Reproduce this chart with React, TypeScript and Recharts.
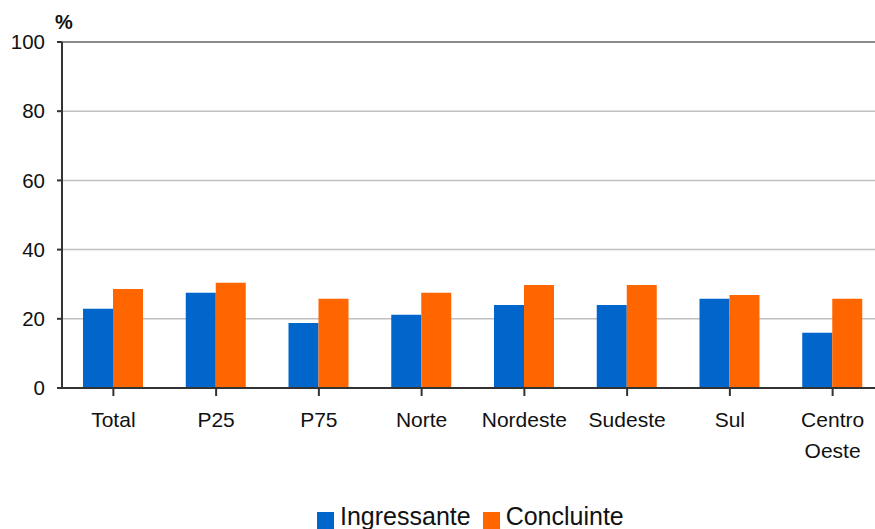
import { BarChart, Bar, XAxis, YAxis, CartesianGrid, ReferenceLine } from 'recharts';

const categories = ['Total', 'P25', 'P75', 'Norte', 'Nordeste', 'Sudeste', 'Sul', 'Centro Oeste'];
const ingressante = [22.9, 27.5, 18.8, 21.2, 24.0, 24.0, 25.8, 16.0];
const concluinte = [28.6, 30.4, 25.8, 27.5, 29.8, 29.8, 26.9, 25.8];
const yTicks = [0, 20, 40, 60, 80, 100];

const BLUE = '#0066CC';
const ORANGE = '#FF6600';
const FONT = '"Liberation Sans", Arial, Helvetica, sans-serif';

const data = categories.map((name, i) => ({
  name,
  ingressante: ingressante[i],
  concluinte: concluinte[i],
}));

// category labels wrap onto two lines when long
function CategoryTick({ x, y, payload }: any) {
  const label = String(payload.value);
  const words = label.length > 10 ? label.split(' ') : [label];
  return (
    <text x={x} y={y} textAnchor="middle" fontSize={21} fill="#111" fontFamily={FONT}>
      {words.map((w: string, i: number) => (
        <tspan key={i} x={x} dy={i === 0 ? 29 : 31}>{w}</tspan>
      ))}
    </text>
  );
}

function LegendBox({ color, label, last }: { color: string; label: string; last?: boolean }) {
  return (
    <span style={{ display: 'inline-flex', alignItems: 'flex-start', marginRight: last ? 0 : 12 }}>
      <span style={{ width: 17, height: 17, background: color, display: 'inline-block', marginRight: 6, marginTop: 10 }} />
      <span>{label}</span>
    </span>
  );
}

export default function App() {
  return (
    <div style={{ position: 'fixed', left: 0, top: 0, width: 875, height: 529, overflow: 'hidden', background: '#fff', fontFamily: FONT }}>
      <div style={{ position: 'absolute', left: 55, top: 12, fontSize: 20, lineHeight: '20px', fontWeight: 'bold', color: '#111' }}>%</div>
      <BarChart
        width={890}
        height={470}
        data={data}
        margin={{ top: 42, right: 6, bottom: 0, left: 0 }}
        barCategoryGap={21}
        barGap={0}
      >
        <CartesianGrid vertical={false} stroke="#c0c0c0" strokeWidth={1.5} />
        <ReferenceLine y={100} stroke="#8c8c8c" strokeWidth={2} />
        <XAxis
          dataKey="name"
          height={82}
          interval={0}
          stroke="#333"
          strokeWidth={2}
          tickSize={8}
          tickLine={{ stroke: '#333', strokeWidth: 2 }}
          tick={<CategoryTick />}
        />
        <YAxis
          domain={[0, 100]}
          ticks={yTicks}
          width={62}
          stroke="#333"
          strokeWidth={2}
          tickSize={5}
          tickMargin={12}
          tick={{ fontSize: 20.5, fill: '#111', fontFamily: FONT }}
        />
        <Bar dataKey="ingressante" fill={BLUE} isAnimationActive={false} />
        <Bar dataKey="concluinte" fill={ORANGE} isAnimationActive={false} />
      </BarChart>
      <div style={{ position: 'absolute', top: 502, left: 317, fontSize: 25, lineHeight: '28px', color: '#111', display: 'flex', whiteSpace: 'nowrap' }}>
        <LegendBox color={BLUE} label="Ingressante" />
        <LegendBox color={ORANGE} label="Concluinte" last />
      </div>
    </div>
  );
}
